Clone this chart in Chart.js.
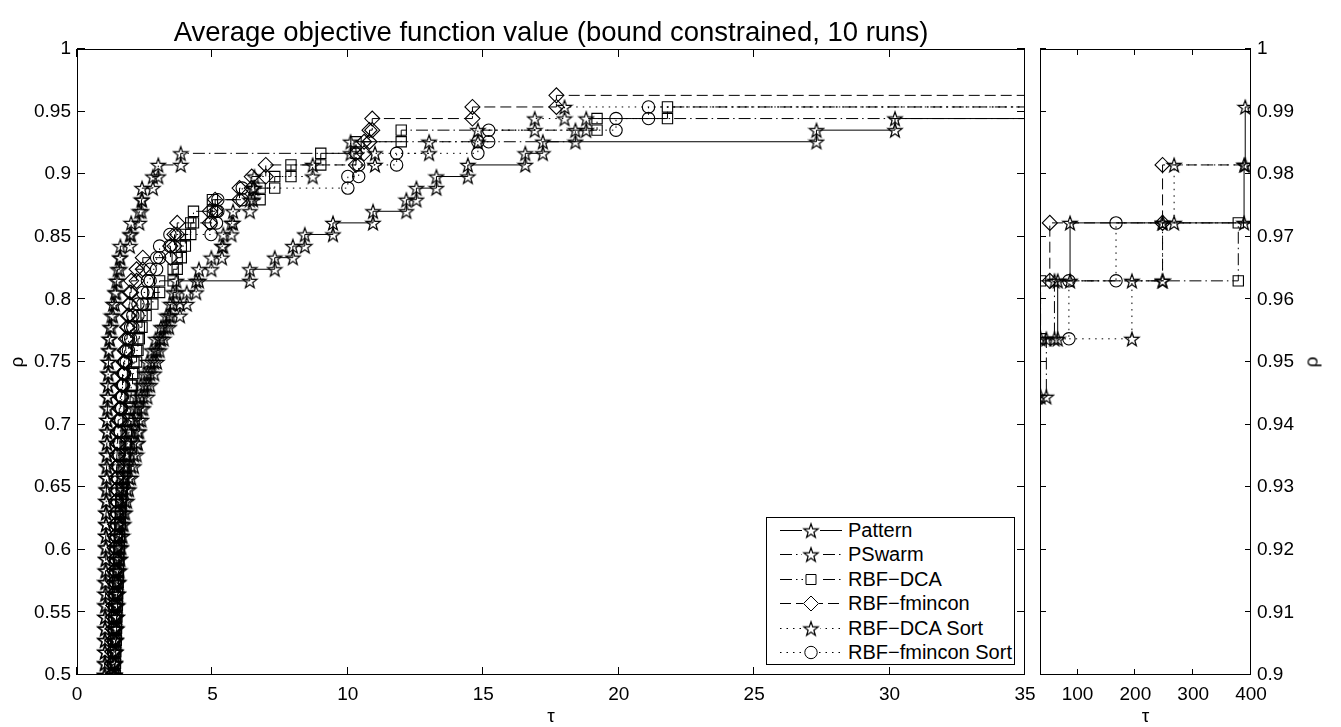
<!DOCTYPE html>
<html>
<head>
<meta charset="utf-8">
<title>Average objective function value (bound constrained, 10 runs)</title>
<script src="https://cdn.jsdelivr.net/npm/chart.js@4.4.1/dist/chart.umd.min.js"></script>
<style>
  html, body { margin: 0; padding: 0; background: #fff; }
  body { width: 1341px; height: 727px; position: relative; overflow: hidden;
         font-family: "Liberation Sans", Arial, Helvetica, sans-serif; }
  #left  { position: absolute; left: 0; top: 0; }
  #right { position: absolute; left: 1030px; top: 0; }
  #legend { position: absolute; left: 766px; top: 517px; width: 247px; height: 146px;
            border: 1px solid #000; background: #fff; }
  #legend .row { position: absolute; left: 0; width: 247px; height: 24px; }
  #legend canvas { position: absolute; left: 13px; top: 0; }
  #legend span { position: absolute; left: 81px; top: 0; line-height: 24px; font-size: 20px;
                 color: #000; white-space: nowrap; }
  /* MATLAB keeps the ylabel reading bottom-to-top on the right axis too */
  #rhoRight { position: absolute; left: 1311px; top: 362px; font-size: 19px; line-height: 19px;
              color: #000; transform: translate(-50%, -50%) rotate(-90deg); }
</style>
</head>
<body>
<canvas id="left" width="1102" height="727"></canvas>
<canvas id="right" width="311" height="727"></canvas>
<div id="legend"></div>
<span id="rhoRight">ρ</span>
<script>
// performance profile, 108 test problems
// each array: tau at which rho reaches level k/108, starting at k = FIRST_LEVEL
var N_PROBLEMS = 108;
var FIRST_LEVEL = 52;
var TAU_END = 1000; // lines run on past the right axis

var patternTau = [1.35, 1.37,
  1.38, 1.40, 1.42, 1.43, 1.45, 1.47, 1.48, 1.50, 1.52, 1.54,
  1.57, 1.60, 1.64, 1.68, 1.72, 1.78, 1.85, 1.92, 2.0, 2.1,
  2.2, 2.25, 2.3, 2.38, 2.45, 2.6, 2.7, 2.85, 2.95, 3.05,
  3.2, 3.3, 3.45, 3.55, 3.67,
  6.38, 7.3, 7.97, 8.41, 9.45, 10.93, 12.16, 12.53, 13.27, 14.43, 16.55, 17.2, 27.3, 30.2,
  36, 65.6, 87, 388, 390];

var pswarmTau = [1.01, 1.01,
  1.02, 1.02, 1.03, 1.03, 1.03, 1.04, 1.04, 1.05, 1.05, 1.05,
  1.06, 1.06, 1.06, 1.07, 1.07, 1.08, 1.08, 1.09, 1.09, 1.10,
  1.10, 1.11, 1.11, 1.12, 1.13, 1.14, 1.15, 1.16, 1.17, 1.19,
  1.22, 1.27, 1.33, 1.40, 1.45, 1.50, 1.58,
  1.60, 1.95, 2.0, 2.3, 2.38, 2.40, 2.8, 3.0, 3.83, 10.1, 18.4, 18.8, 46, 60, 247];

var rbfDcaTau = [1.37, 1.39,
  1.40, 1.41, 1.42, 1.43, 1.45, 1.46, 1.47, 1.49, 1.50, 1.52,
  1.53, 1.55, 1.56, 1.58, 1.60, 1.62, 1.64, 1.67, 1.70, 1.74,
  1.78, 1.82, 1.88, 1.92, 1.96, 2.0, 2.05, 2.1, 2.2, 2.25,
  2.3, 2.4, 2.55, 2.8, 3.05, 3.55, 3.7, 3.85, 4.0, 4.2,
  4.3, 5.0, 6.76, 7.3, 7.9, 9.0, 10.3, 11.97, 19.2, 21.8, 36, 378];

var rbfFminconTau = [1.26, 1.27,
  1.28, 1.29, 1.30, 1.31, 1.32, 1.33, 1.34, 1.35, 1.36, 1.37,
  1.38, 1.39, 1.40, 1.41, 1.42, 1.43, 1.44, 1.45, 1.46, 1.47,
  1.48, 1.50, 1.52, 1.56, 1.60, 1.64, 1.68, 1.72, 1.76, 1.80,
  1.85, 1.88, 1.92, 1.95, 2.0, 2.2, 2.43,
  3.45, 3.6, 3.7, 4.9, 5.1, 6.0, 6.45, 6.97, 10.3, 10.6, 10.8, 10.9, 14.6, 17.7, 52, 247];

var dcaSortTau = [1.33, 1.35,
  1.36, 1.37, 1.38, 1.39, 1.40, 1.41, 1.42, 1.43, 1.44, 1.46,
  1.48, 1.50, 1.52, 1.55, 1.58, 1.62, 1.66, 1.70, 1.75, 1.80,
  1.85, 1.92, 2.0, 2.1, 2.2, 2.35, 2.5, 2.6, 2.75, 2.9,
  3.1, 3.4, 3.8, 4.05, 4.4,
  4.5, 4.96, 5.35, 5.4, 5.7, 5.76, 6.38, 6.5, 6.55, 8.7, 11.0, 13.0, 14.8, 16.9, 18.0, 194, 247, 267];

var fminconSortTau = [1.31, 1.32,
  1.33, 1.34, 1.35, 1.36, 1.37, 1.38, 1.39, 1.40, 1.41, 1.42,
  1.43, 1.44, 1.45, 1.46, 1.47, 1.48, 1.49, 1.50, 1.52, 1.54,
  1.56, 1.58, 1.60, 1.62, 1.65, 1.68, 1.72, 1.76, 1.82, 1.90,
  1.98, 2.06, 2.25, 2.43, 2.6, 2.7, 2.94,
  3.05, 3.43, 4.95, 5.15, 5.2, 6.1, 10.0, 10.4, 11.8, 14.8, 15.2, 19.9, 21.1, 85, 166.5];

var seriesNames = ['Pattern', 'PSwarm', 'RBF\u2212DCA', 'RBF\u2212fmincon', 'RBF\u2212DCA Sort', 'RBF\u2212fmincon Sort'];
var seriesTau = [patternTau, pswarmTau, rbfDcaTau, rbfFminconTau, dcaSortTau, fminconSortTau];
var seriesLine = ['solid', 'dashDot', 'dashDot', 'dashed', 'dotted', 'dotted'];
var seriesMarker = ['star', 'star', 'square', 'diamond', 'star', 'circle'];

var leftTauTicks = [0, 5, 10, 15, 20, 25, 30, 35];
var rightTauTicks = [100, 200, 300, 400];

var FONT = '"Liberation Sans", Arial, Helvetica, sans-serif';
Chart.defaults.font.family = FONT;
Chart.defaults.color = '#000';

var dashes = { solid: [], dashDot: [12, 4, 1.5, 4], dashed: [11, 5], dotted: [1.5, 5] };

// MATLAB-like open pentagram
function makeStar(r) {
  var size = Math.ceil(2 * r + 3);
  var c = document.createElement('canvas');
  c.width = size; c.height = size;
  var g = c.getContext('2d');
  var cx = size / 2, cy = size / 2 + r * 0.1;
  g.beginPath();
  for (var i = 0; i < 10; i++) {
    var rr = i % 2 ? r * 0.4 : r;
    var ang = -Math.PI / 2 + i * Math.PI / 5;
    var x = cx + rr * Math.cos(ang), y = cy + rr * Math.sin(ang);
    if (i) g.lineTo(x, y); else g.moveTo(x, y);
  }
  g.closePath();
  g.strokeStyle = '#000';
  g.lineWidth = 1.2;
  g.stroke();
  return c;
}
var starImg = makeStar(7.5);

var markerStyle = {
  star:    { pointStyle: starImg, pointRadius: 7.5 },
  square:  { pointStyle: 'rect', pointRadius: 7.3 },
  diamond: { pointStyle: 'rectRot', pointRadius: 7.5 },
  circle:  { pointStyle: 'circle', pointRadius: 6.2 }
};

// stairs vertices: marker at both corners of every step
function profilePoints(tau) {
  var pts = [];
  tau.forEach(function(t, i) {
    var k = FIRST_LEVEL + i;
    pts.push({ x: t, y: (k - 1) / N_PROBLEMS });
    pts.push({ x: t, y: k / N_PROBLEMS });
  });
  pts.push({ x: TAU_END, y: (FIRST_LEVEL + tau.length - 1) / N_PROBLEMS });
  return pts;
}

function makeDatasets() {
  return seriesTau.map(function(tau, i) {
    var m = markerStyle[seriesMarker[i]];
    return {
      label: seriesNames[i],
      data: profilePoints(tau),
      showLine: true,
      borderColor: '#000',
      borderWidth: 1,
      borderDash: dashes[seriesLine[i]],
      pointStyle: m.pointStyle,
      pointRadius: m.pointRadius,
      pointBorderColor: '#000',
      pointBackgroundColor: 'rgba(0,0,0,0)',
      pointBorderWidth: 1.1
    };
  });
}

function rhoLabel(v) { return String(Math.round(v * 100) / 100); }

// box around the axes and inward tick marks on all four sides
var frameTicks = {
  id: 'frameTicks',
  afterDraw: function(chart, args, opts) {
    var ctx = chart.ctx, a = chart.chartArea, sx = chart.scales.x, sy = chart.scales.y;
    var L = opts.len;
    ctx.save();
    ctx.strokeStyle = '#000';
    ctx.lineWidth = 1;
    ctx.setLineDash([]);
    ctx.strokeRect(a.left + 0.5, a.top + 0.5, a.right - a.left - 1, a.bottom - a.top - 1);
    ctx.beginPath();
    sx.ticks.forEach(function(t) {
      var px = Math.round(sx.getPixelForValue(t.value)) - 0.5;
      ctx.moveTo(px, a.bottom); ctx.lineTo(px, a.bottom - L);
      ctx.moveTo(px, a.top); ctx.lineTo(px, a.top + L);
    });
    sy.ticks.forEach(function(t) {
      var py = Math.round(sy.getPixelForValue(t.value)) - 0.5;
      ctx.moveTo(a.left, py); ctx.lineTo(a.left + L, py);
      ctx.moveTo(a.right, py); ctx.lineTo(a.right - L, py);
    });
    ctx.stroke();
    ctx.restore();
  }
};

var tickFont = { size: 19, family: FONT };

new Chart(document.getElementById('left'), {
  type: 'scatter',
  data: { datasets: makeDatasets() },
  plugins: [frameTicks],
  options: {
    responsive: false,
    animation: false,
    layout: { padding: { top: 18, right: 77, bottom: 0, left: 0 } },
    plugins: {
      legend: { display: false },
      tooltip: { enabled: false },
      title: {
        display: true,
        fullSize: false,
        text: 'Average objective function value (bound constrained, 10 runs)',
        font: { size: 27.5, weight: 'normal', family: FONT, lineHeight: 1.1 },
        color: '#000',
        padding: { top: 0, bottom: 0.75 }
      },
      frameTicks: { len: 8 }
    },
    scales: {
      x: {
        type: 'linear', min: 0, max: 35,
        afterBuildTicks: function(s) { s.ticks = leftTauTicks.map(function(v) { return { value: v }; }); },
        ticks: { font: tickFont, color: '#000', padding: 8, maxRotation: 0, autoSkip: false },
        grid: { display: false, drawTicks: false },
        border: { display: false },
        title: { display: true, text: '\u03c4', font: { size: 19, family: FONT, lineHeight: 1 }, color: '#000',
                 padding: { top: 0, bottom: 1 } },
        afterFit: function(s) { s.height = 52; }
      },
      y: {
        type: 'linear', min: 0.5, max: 1,
        ticks: { stepSize: 0.05, font: tickFont, color: '#000', padding: 6, callback: rhoLabel },
        grid: { display: false, drawTicks: false },
        border: { display: false },
        title: { display: true, text: '\u03c1', font: { size: 19, family: FONT, lineHeight: 1 }, color: '#000',
                 padding: { top: 8.5, bottom: 0 } },
        afterFit: function(s) { s.width = 77; }
      }
    }
  }
});

new Chart(document.getElementById('right'), {
  type: 'scatter',
  data: { datasets: makeDatasets() },
  plugins: [frameTicks],
  options: {
    responsive: false,
    animation: false,
    layout: { padding: { top: 49, right: 0, bottom: 0, left: 10 } },
    plugins: {
      legend: { display: false },
      tooltip: { enabled: false },
      frameTicks: { len: 6 }
    },
    scales: {
      x: {
        type: 'linear', min: 35, max: 400,
        afterBuildTicks: function(s) { s.ticks = rightTauTicks.map(function(v) { return { value: v }; }); },
        ticks: { font: tickFont, color: '#000', padding: 8, maxRotation: 0, autoSkip: false },
        grid: { display: false, drawTicks: false },
        border: { display: false },
        title: { display: true, text: '\u03c4', font: { size: 19, family: FONT, lineHeight: 1 }, color: '#000',
                 padding: { top: 0, bottom: 1 } },
        afterFit: function(s) { s.height = 52; }
      },
      y: {
        type: 'linear', position: 'right', min: 0.9, max: 1,
        ticks: { stepSize: 0.01, font: tickFont, color: '#000', padding: 6, callback: rhoLabel },
        grid: { display: false, drawTicks: false },
        border: { display: false },
        afterFit: function(s) { s.width = 90; }
      }
    }
  }
});

// legend with line + marker samples
var legend = document.getElementById('legend');
seriesNames.forEach(function(name, i) {
  var row = document.createElement('div');
  row.className = 'row';
  row.style.top = (11.5 + 24.5 * i - 12) + 'px';
  var c = document.createElement('canvas');
  c.width = 62; c.height = 24;
  var g = c.getContext('2d');
  g.strokeStyle = '#000';
  g.lineWidth = 1;
  g.setLineDash(dashes[seriesLine[i]]);
  g.beginPath(); g.moveTo(0, 12.5); g.lineTo(62, 12.5); g.stroke();
  g.setLineDash([]);
  var m = seriesMarker[i];
  if (m === 'star') {
    g.clearRect(31 - starImg.width / 2, 12 - starImg.height / 2, starImg.width, starImg.height);
    g.drawImage(starImg, 31 - starImg.width / 2, 12.5 - starImg.height / 2);
  } else {
    g.clearRect(23, 4, 16, 17);
    g.beginPath();
    if (m === 'square') g.rect(26, 7.5, 10, 10);
    if (m === 'diamond') { g.moveTo(31, 5); g.lineTo(38.5, 12.5); g.lineTo(31, 20); g.lineTo(23.5, 12.5); g.closePath(); }
    if (m === 'circle') g.arc(31, 12.5, 6.2, 0, Math.PI * 2);
    g.stroke();
  }
  var s = document.createElement('span');
  s.textContent = name;
  row.appendChild(c);
  row.appendChild(s);
  legend.appendChild(row);
});
</script>
</body>
</html>
